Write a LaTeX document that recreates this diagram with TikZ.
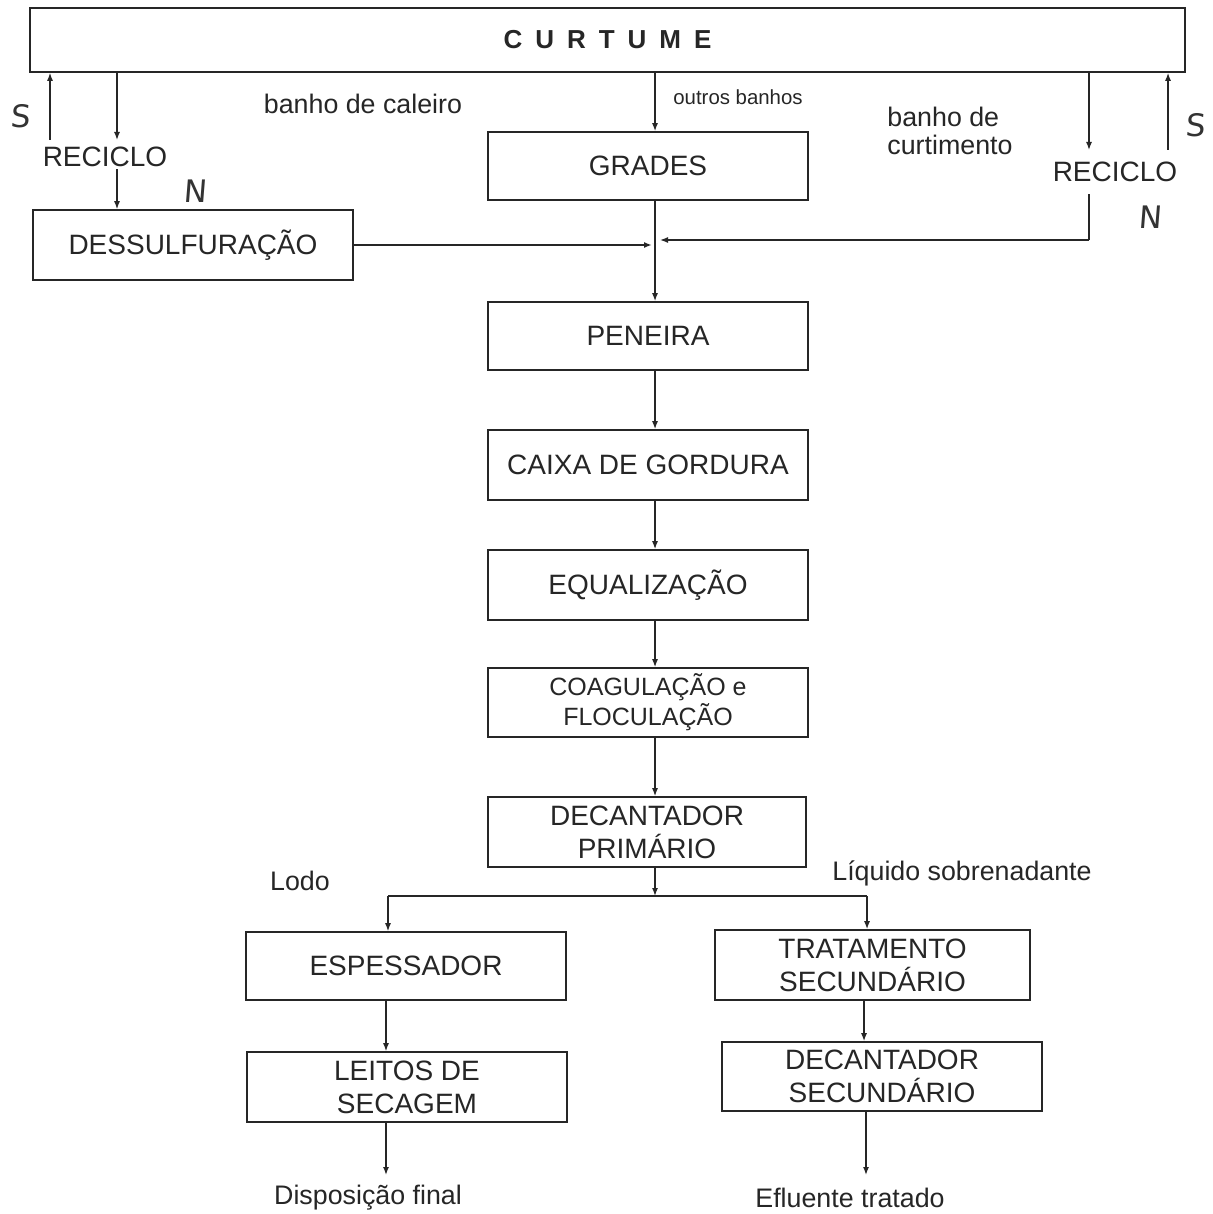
\documentclass[tikz,border=0pt]{standalone}
\usepackage{fontspec}
\setmainfont{Liberation Sans}
\newfontfamily\handfont[FakeSlant=0.08]{DejaVu Sans}
\usetikzlibrary{arrows.meta}
\newcommand{\boxfont}{\fontsize{14}{16.5}\selectfont}
\newcommand{\lblfont}{\fontsize{13.4}{14.4}\selectfont}
\tikzset{
  box/.style={draw=black!85, line width=0.8pt, inner sep=0pt, align=center, font=\boxfont, text=black!85},
  lbl/.style={inner sep=1pt, align=center, font=\lblfont, text=black!85},
  hand/.style={inner sep=0pt, font=\handfont\fontsize{15.5}{15.5}\selectfont, text=black!80},
  arr/.style={draw=black!85, line width=0.7pt, -{Latex[length=4pt,width=3pt]}},
  ln/.style={draw=black!85, line width=0.7pt}
}
\begin{document}
\begin{tikzpicture}[x=0.5pt,y=-0.5pt]
\useasboundingbox[fill=white] (0,0) rectangle (1212,1214);
% boxes
\node[box, minimum width=577.5pt, minimum height=32pt] (curtume) at (607.5,40)
  {\bfseries\fontsize{13}{14}\selectfont C\hspace{6.5pt}U\hspace{6.5pt}R\hspace{6.5pt}T\hspace{6.5pt}U\hspace{6.5pt}M\hspace{6.5pt}E};
\node[box, minimum width=160pt, minimum height=35pt] (dess) at (193,245) {DESSULFURAÇÃO};
\node[box, minimum width=160pt, minimum height=34pt] (grades) at (648,166) {GRADES};
\node[box, minimum width=160pt, minimum height=34pt] (peneira) at (648,336) {PENEIRA};
\node[box, minimum width=160pt, minimum height=35pt] (caixa) at (648,465) {CAIXA DE GORDURA};
\node[box, minimum width=160pt, minimum height=35pt] (equal) at (648,585) {EQUALIZAÇÃO};
\node[box, minimum width=160pt, minimum height=34.5pt, font=\fontsize{12.5}{15}\selectfont] (coag) at (648,702.5) {COAGULAÇÃO e\\FLOCULAÇÃO};
\node[box, minimum width=159pt, minimum height=35pt] (decp) at (647,832) {DECANTADOR\\PRIMÁRIO};
\node[box, minimum width=160pt, minimum height=34pt] (esp) at (406,966) {ESPESSADOR};
\node[box, minimum width=157.5pt, minimum height=35pt] (trat) at (872.5,965) {TRATAMENTO\\SECUNDÁRIO};
\node[box, minimum width=160pt, minimum height=35pt] (leitos) at (407,1087) {LEITOS DE\\SECAGEM};
\node[box, minimum width=160pt, minimum height=34.5pt] (decs) at (882,1076.5) {DECANTADOR\\SECUNDÁRIO};
% text nodes
\node[lbl, font=\boxfont] (rec1) at (105,157) {RECICLO};
\node[lbl, font=\boxfont] (rec2) at (1115,172) {RECICLO};
\node[lbl] (caleiro) at (363,104) {banho de caleiro};
\node[lbl, font=\fontsize{10.2}{11}\selectfont] (outros) at (738,97) {outros banhos};
\node[lbl, anchor=west, align=left, font=\fontsize{13.4}{14.2}\selectfont] (curt) at (885,131) {banho de\\curtimento};
\node[lbl] (lodo) at (300,881) {Lodo};
\node[lbl] (liq) at (962,873) {Líquido sobrenadante};
\node[lbl] (disp) at (368,1198) {Disposição final};
\node[lbl] (eflu) at (850,1198) {Efluente tratado};
\node[hand] (s1) at (20,116) {S};
\node[hand] (n1) at (195,191) {N};
\node[hand] (s2) at (1195,125) {S};
\node[hand] (n2) at (1150,217) {N};
% coordinates
\coordinate (xa) at (50,140);
\coordinate (xb) at (117,140);
\coordinate (xm) at (655,0);
\coordinate (xc) at (1089,150);
\coordinate (xd) at (1168,150);
\coordinate (jl) at (1089,240);
\coordinate (jr) at (660,240);
\coordinate (sp) at (655,896);
\coordinate (xl) at (388,896);
\coordinate (xr) at (867,896);
\coordinate (dl) at (386,1175);
\coordinate (dr) at (866,1175);
% left recycle
\draw[arr] (xa) -- (curtume.south -| xa);
\draw[arr] (curtume.south -| xb) -- (xb);
\draw[arr] (rec1.south -| xb) -- (dess.north -| xb);
% right recycle
\draw[arr] (curtume.south -| xc) -- (xc);
\draw[arr] (xd) -- (curtume.south -| xd);
\draw[ln] (rec2.south -| jl) ++(0,10) -- (jl);
\draw[arr] (jl) -- (jr);
\draw[arr, line width=1.1pt] (dess.east) -- ([xshift=-1.5pt]dess.east -| xm);
% main column
\draw[arr] (curtume.south -| xm) -- (grades.north -| xm);
\draw[arr] (grades.south -| xm) -- (peneira.north -| xm);
\draw[arr] (peneira.south -| xm) -- (caixa.north -| xm);
\draw[arr] (caixa.south -| xm) -- (equal.north -| xm);
\draw[arr] (equal.south -| xm) -- (coag.north -| xm);
\draw[arr] (coag.south -| xm) -- (decp.north -| xm);
\draw[arr] (decp.south -| xm) -- (sp);
\draw[ln, line width=1pt] (xl) -- (xr);
\draw[arr] (xl) -- (esp.north -| xl);
\draw[arr] (xr) -- (trat.north -| xr);
\draw[arr] (esp.south -| dl) -- (leitos.north -| dl);
\draw[arr] (trat.south -| dr) ++(-2,0) -- ([xshift=-1pt]decs.north -| dr);
\draw[arr] (leitos.south -| dl) -- (dl);
\draw[arr] (decs.south -| dr) -- (dr);
\end{tikzpicture}
\end{document}
